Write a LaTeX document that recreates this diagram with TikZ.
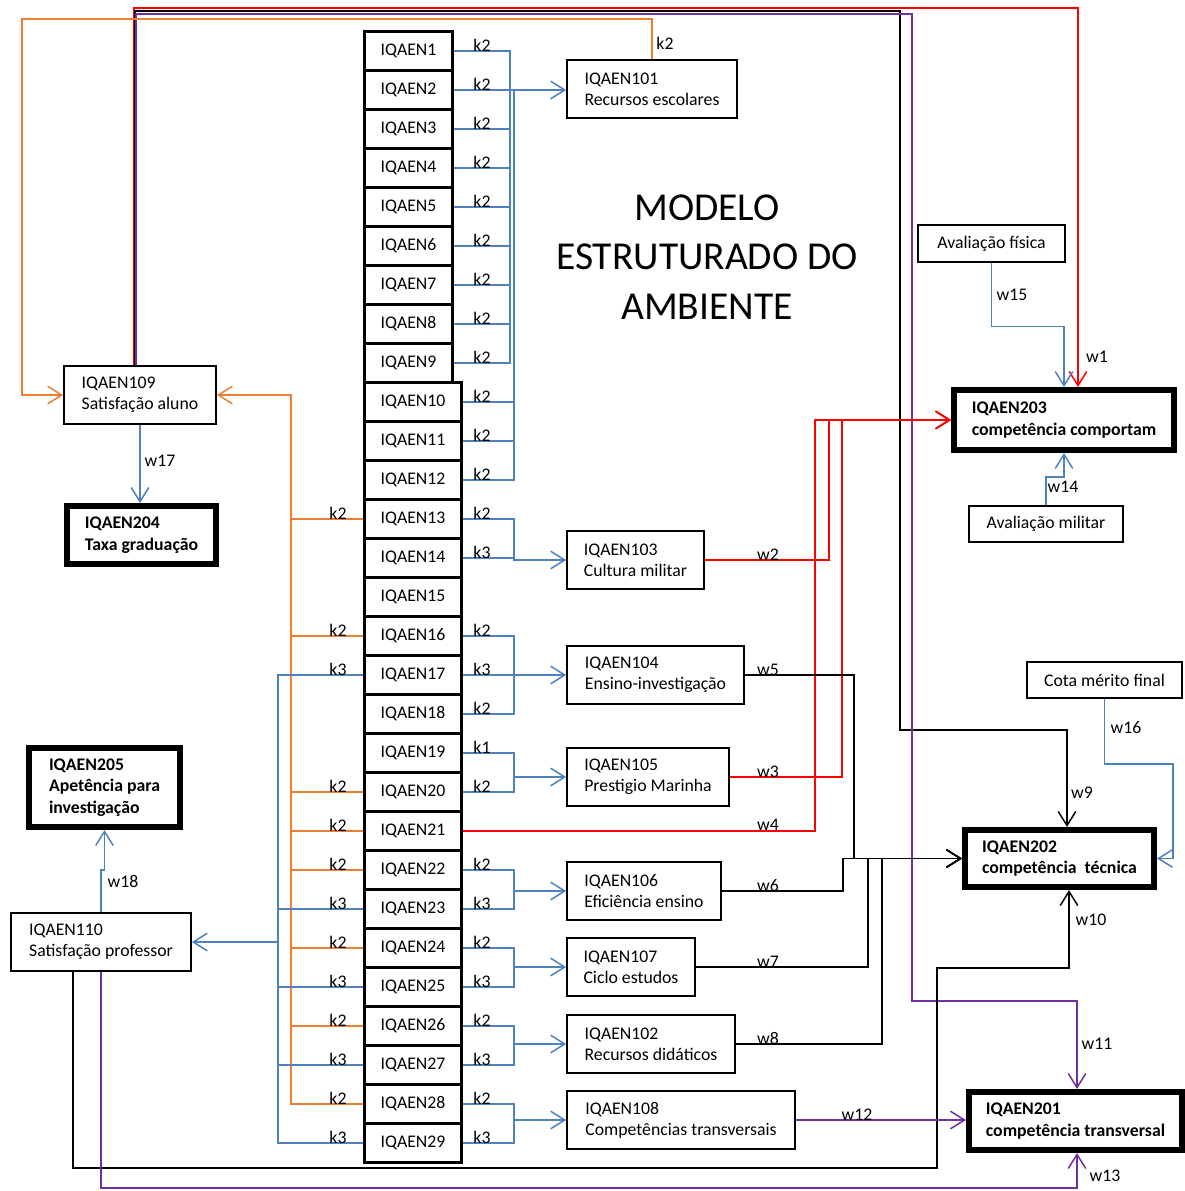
\documentclass[tikz,border=0pt]{standalone}
\usepackage{fontspec}
\setmainfont{Carlito}
\usetikzlibrary{arrows.meta}
\definecolor{lblue}{RGB}{79,129,189}
\definecolor{lorange}{RGB}{237,125,49}
\definecolor{lred}{RGB}{255,0,0}
\definecolor{lpurple}{RGB}{112,48,160}

\begin{document}
\begin{tikzpicture}[x=0.02cm, y=-0.02cm,
    >={Straight Barb[length=8pt,width=10pt]},
    every node/.style={font=\fontsize{10.1}{12}\selectfont},
    qbox/.style={draw, line width=1.2pt, minimum height=0.78cm, inner sep=0pt},
    ibox/.style={draw, line width=1pt, align=left, minimum height=1.16cm},
    obox/.style={draw, line width=1pt, minimum height=0.73cm},
    tbox/.style={draw, line width=3.2pt, align=left,
        font=\fontsize{10.1}{12.4}\selectfont\bfseries},
    blink/.style={draw=lblue, line width=0.85pt},
    olink/.style={draw=lorange, line width=0.85pt},
    rlink/.style={draw=lred, line width=0.85pt},
    klink/.style={draw=black, line width=0.85pt},
    plink/.style={draw=lpurple, line width=0.85pt},
    klab/.style={anchor=base, inner sep=0pt},
    wlab/.style={inner sep=0pt}]
\fill[white] (0,0) rectangle (1185,1191);
\useasboundingbox (0,0) rectangle (1185,1191);

% column of indicators
\foreach \i in {1,...,9}
  \node[qbox, minimum width=1.76cm] (q\i) at (408.5,{12+39*\i}) {IQAEN\i};
\foreach \i in {10,...,29}
  \node[qbox, minimum width=1.94cm] (q\i) at (413,{12+39*\i}) {IQAEN\i};

% level 1 boxes
\node[ibox, minimum width=3.4cm] (n101) at (652,89) {IQAEN101\\Recursos escolares};
\node[ibox, minimum width=2.74cm] (n103) at (635.5,560) {IQAEN103\\Cultura militar};
\node[ibox, minimum width=3.54cm] (n104) at (655.5,675) {IQAEN104\\Ensino-investigação};
\node[ibox, minimum width=3.24cm] (n105) at (648,777) {IQAEN105\\Prestigio Marinha};
\node[ibox, minimum width=3.08cm] (n106) at (644,891) {IQAEN106\\Eficiência ensino};
\node[ibox, minimum width=2.56cm] (n107) at (631,967) {IQAEN107\\Ciclo estudos};
\node[ibox, minimum width=3.36cm] (n102) at (651,1044) {IQAEN102\\Recursos didáticos};
\node[ibox, minimum width=4.56cm] (n108) at (681,1120) {IQAEN108\\Competências transversais};
\node[ibox, minimum width=3.04cm] (n109) at (140,395) {IQAEN109\\Satisfação aluno};
\node[ibox, minimum width=3.6cm] (n110) at (101,942) {IQAEN110\\Satisfação professor};

% level 2 boxes
\node[tbox, minimum width=2.99cm, minimum height=1.17cm] (n204) at (141.5,535) {IQAEN204\\Taxa graduação};
\node[tbox, minimum width=3.03cm, minimum height=1.59cm] (n205) at (104.5,787.5) {IQAEN205\\Apetência para\\investigação};
\node[tbox, minimum width=4.41cm, minimum height=1.21cm] (n203) at (1064,420) {IQAEN203\\competência comportam};
\node[tbox, minimum width=3.79cm, minimum height=1.15cm] (n202) at (1059.5,858.5) {IQAEN202\\competência~ técnica};
\node[tbox, minimum width=4.27cm, minimum height=1.17cm] (n201) at (1075.5,1121) {IQAEN201\\competência transversal};

\node[obox, minimum width=2.94cm] (af) at (991.5,243.5) {Avaliação física};
\node[obox, minimum width=3.08cm] (am) at (1046,524) {Avaliação militar};
\node[obox, minimum width=3.1cm] (cota) at (1104.5,680) {Cota mérito final};

\node[font=\fontsize{22.5}{28.3}\selectfont, align=center] (title) at (707,257)
  {MODELO\\ESTRUTURADO DO\\AMBIENTE};

% right side of the column
\coordinate (ba) at (510,0);
\coordinate (bx) at (514,0);
\draw[blink] (q1.east) -| (ba |- q9.east) -- (q9.east);
\foreach \i in {3,...,8} \draw[blink] (q\i.east) -- (ba |- q\i.east);
\draw[blink] (bx |- q2.east) |- (q12.east);
\foreach \i in {10,11} \draw[blink] (q\i.east) -- (bx |- q\i.east);
\draw[blink,->] (q2.east) -- (q2.east -| n101.west);
\draw[blink,->] (q13.east) -| (bx |- n103.west) -- (n103.west);
\draw[blink] (q14.east) -- (bx |- q14.east);
\draw[blink] (q16.east) -| (bx |- q18.east) -- (q18.east);
\draw[blink,->] (q17.east) -- (q17.east -| n104.west);
\draw[blink] (q19.east) -| (bx |- q20.east) -- (q20.east);
\draw[blink,->] (bx |- n105.west) -- (n105.west);
\foreach \ra/\rb/\nd in {22/23/n106, 24/25/n107, 26/27/n102, 28/29/n108} {
  \draw[blink] (q\ra.east) -| (bx |- q\rb.east) -- (q\rb.east);
  \draw[blink,->] (bx |- \nd.west) -- (\nd.west);
}
\foreach \i/\k in {1/k2,2/k2,3/k2,4/k2,5/k2,6/k2,7/k2,8/k2,9/k2,10/k2,11/k2,12/k2,
    13/k2,14/k3,16/k2,17/k3,18/k2,19/k1,20/k2,22/k2,23/k3,24/k2,25/k3,26/k2,27/k3,28/k2,29/k3}
  \node[klab] (kr\i) at (482,{12+39*\i}) {\k};

% left side of the column
\coordinate (ob) at (291,0);
\coordinate (lb) at (278,0);
\draw[olink,->] (q28.west) -| (ob |- n109.east) -- (n109.east);
\foreach \i in {13,16,20,21,22,24,26} \draw[olink] (q\i.west) -- (ob |- q\i.west);
\draw[blink] (q17.west) -| (lb |- q29.west) -- (q29.west);
\foreach \i in {23,25,27} \draw[blink] (q\i.west) -- (lb |- q\i.west);
\draw[blink,->] (lb |- n110.east) -- (n110.east);
\foreach \i/\k in {13/k2,16/k2,17/k3,20/k2,21/k2,22/k2,23/k3,24/k2,25/k3,26/k2,27/k3,28/k2,29/k3}
  \node[klab] (kl\i) at (338,{12+39*\i}) {\k};

% weights
\coordinate (b9) at (900,730);
\coordinate (b10) at (937,968);
\coordinate (b11) at (912,1001);
\draw[rlink,->] ([xshift=-0.12cm]n109.north) -- ++(0,-357) -| ([xshift=0.28cm]n203.north);
\draw[klink,->] ([xshift=-0.1cm]n109.north) -- ++(0,-354) -| (b9) -| ([xshift=0.15cm]n202.north);
\draw[plink,->] ([xshift=-0.08cm]n109.north) -- ++(0,-351) -| (b11) -| ([xshift=0.03cm]n201.north);
\draw[olink,->] (n101.north) -- ++(0,-40) -| ([xshift=-0.82cm]n109.west) -- (n109.west);
\draw[rlink,->] (n103.east) -| ([xshift=-2.44cm]n203.west) -- (n203.west);
\draw[rlink,->] (n105.east) -| ([xshift=-2.18cm]n203.west) -- (n203.west);
\draw[rlink,->] (q21.east) -| ([xshift=-2.72cm]n203.west) -- (n203.west);
\draw[klink,->] (n104.east) -| ([xshift=-2.16cm]n202.west) -- (n202.west);
\draw[klink,->] (n106.east) -| ([xshift=-2.38cm]n202.west) -- (n202.west);
\draw[klink,->] (n107.east) -| ([xshift=-1.88cm]n202.west) -- (n202.west);
\draw[klink,->] (n102.east) -| ([xshift=-1.6cm]n202.west) -- (n202.west);
\draw[klink,->] ([xshift=-0.56cm]n110.south) -- ++(0,196) -| (b10) -| ([xshift=0.19cm]n202.south);
\draw[plink,->] (n108.east) -- (n108.east -| n201.west);
\draw[plink,->] (n110.south) -- ++(0,216) -| ([xshift=0.03cm]n201.south);
\draw[blink,->] (af.south) -- ++(0,64) -| (n203.north);
\draw[blink,->] (am.north) -- ++(0,-28) -| (n203.south);
\draw[blink,->] (cota.south) -- ++(0,65) -| ([xshift=0.32cm]n202.east) -- (n202.east);
\draw[blink,->] (n109.south) -- (n109.south |- n204.north);
\draw[blink,->] (n110.north) -- ++(0,-42) -| (n205.south);

\node[wlab] (lk101) at (665,43) {k2};
\node[wlab] (lw1) at (1097,357) {w1};
\node[klab] (lw2) at (768,560) {w2};
\node[klab] (lw3) at (768,777) {w3};
\node[klab] (lw4) at (768,830) {w4};
\node[klab] (lw5) at (768,675) {w5};
\node[klab] (lw6) at (768,891) {w6};
\node[klab] (lw7) at (768,967) {w7};
\node[klab] (lw8) at (768,1044) {w8};
\node[wlab] (lw9) at (1082,793) {w9};
\node[wlab] (lw10) at (1091,920) {w10};
\node[wlab] (lw11) at (1097,1044) {w11};
\node[klab] (lw12) at (857,1120) {w12};
\node[wlab] (lw13) at (1105,1176) {w13};
\node[wlab] (lw14) at (1063,487) {w14};
\node[wlab] (lw15) at (1012,295) {w15};
\node[wlab] (lw16) at (1126,728) {w16};
\node[wlab] (lw17) at (160,461) {w17};
\node[wlab] (lw18) at (123,881) {w18};
\end{tikzpicture}
\end{document}
